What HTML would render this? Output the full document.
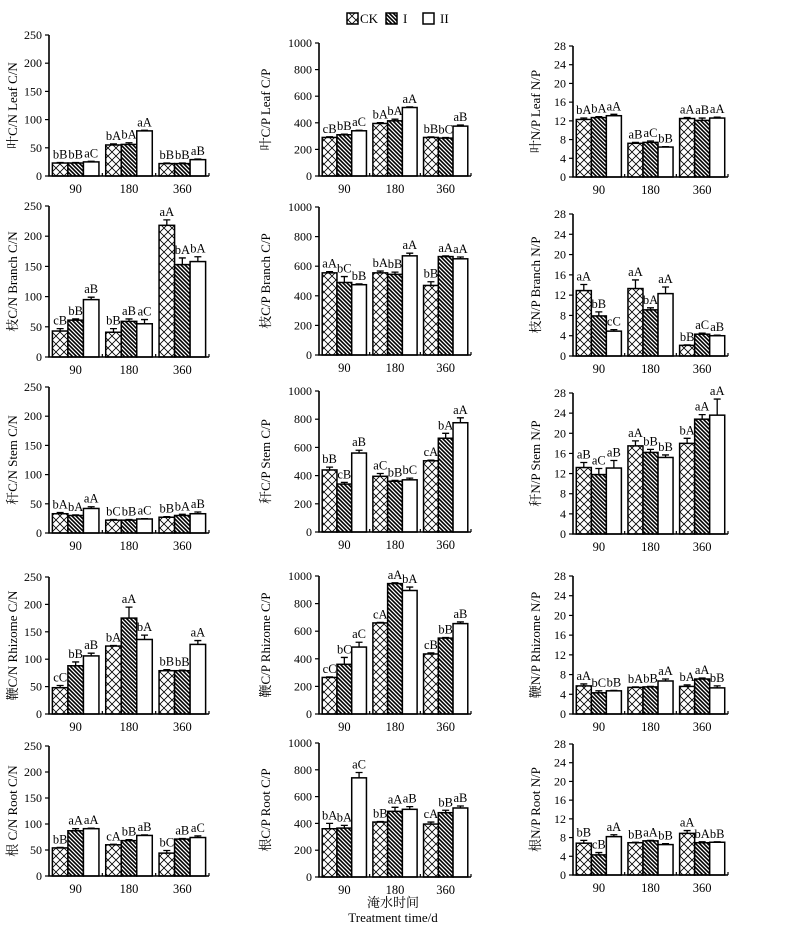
<!DOCTYPE html>
<html><head><meta charset="utf-8">
<style>
html,body{margin:0;padding:0;background:#fff;}
svg{display:block;font-family:"Liberation Serif","Noto Serif CJK SC",serif;}
</style></head>
<body>
<svg id="chart" width="800" height="925" viewBox="0 0 800 925" xmlns="http://www.w3.org/2000/svg">
<defs>
<pattern id="pCK" patternUnits="userSpaceOnUse" width="8" height="8">
<rect width="8" height="8" fill="#fff"/>
<path d="M0,0 L8,8 M8,0 L0,8" stroke="#000" stroke-width="0.8"/>
</pattern>
<pattern id="pI" patternUnits="userSpaceOnUse" width="4" height="4">
<rect width="4" height="4" fill="#fff"/>
<path d="M-1,-1 L5,5 M-1,3 L1,5 M3,-1 L5,1" stroke="#000" stroke-width="1.6"/>
</pattern>
</defs>
<g>
<rect x="347" y="13" width="11" height="11" fill="url(#pCK)" stroke="#000" stroke-width="1.5"/>
<text x="360" y="23" font-size="13">CK</text>
<rect x="386" y="13" width="11" height="11" fill="url(#pI)" stroke="#000" stroke-width="1.5"/>
<text x="403" y="23" font-size="13">I</text>
<rect x="423" y="13" width="11" height="11" fill="#fff" stroke="#000" stroke-width="1.5"/>
<text x="440" y="23" font-size="13">II</text>
</g>
<text x="393" y="907" font-size="13" text-anchor="middle">淹水时间</text>
<text x="393" y="922" font-size="13" text-anchor="middle">Treatment time/d</text>
</svg>
<script>
const categories = ["90","180","360"];
const seriesNames = ["CK","I","II"];
// Column 1: C/N
const leafCN = [[23,55,22],[23,56,22],[25,80,29]];
const leafCNErr = [[1,2,1],[1,3,1],[1,1,1]];
const leafCNLbl = [["bB","bA","bB"],["bB","bA","bB"],["aC","aA","aB"]];
const branchCN = [[43,41,218],[61,59,153],[95,55,158]];
const branchCNErr = [[4,6,9],[2,4,11],[4,7,8]];
const branchCNLbl = [["cB","bB","aA"],["bB","aB","bA"],["aB","aC","bA"]];
const stemCN = [[33,22,27],[30,22,30],[42,24,33]];
const stemCNErr = [[2,1,1],[1,1,2],[3,0.5,3]];
const stemCNLbl = [["bA","bC","bB"],["bA","bB","bA"],["aA","aC","aB"]];
const rhizomeCN = [[48,124,79],[88,175,79],[106,136,127]];
const rhizomeCNErr = [[4,1,2],[7,20,1],[5,8,7]];
const rhizomeCNLbl = [["cC","bA","bB"],["bB","aA","bB"],["aB","bA","aA"]];
const rootCN = [[54,60,44],[87,68,71],[91,78,74]];
const rootCNErr = [[1,1,5],[4,2,1],[1,1,3]];
const rootCNLbl = [["bB","cA","bC"],["aA","bB","aB"],["aA","aB","aC"]];
// Column 2: C/P
const leafCP = [[290,395,290],[310,415,285],[340,515,375]];
const leafCPErr = [[5,6,4],[5,12,4],[4,5,8]];
const leafCPLbl = [["cB","bA","bB"],["bB","bA","bC"],["aC","aA","aB"]];
const branchCP = [[555,555,470],[490,545,665],[475,670,650]];
const branchCPErr = [[8,12,25],[40,15,5],[5,18,12]];
const branchCPLbl = [["aA","bA","bB"],["bC","bB","aA"],["bB","aA","aA"]];
const stemCP = [[440,395,505],[340,360,665],[560,370,775]];
const stemCPErr = [[20,20,5],[12,6,35],[20,12,35]];
const stemCPLbl = [["bB","aC","cA"],["cB","bB","bA"],["aB","bC","aA"]];
const rhizomeCP = [[265,660,435],[360,945,550],[485,895,655]];
const rhizomeCPErr = [[4,4,8],[50,6,4],[35,25,12]];
const rhizomeCPLbl = [["cC","cA","cB"],["bC","aA","bB"],["aC","bA","aB"]];
const rootCP = [[360,410,395],[365,490,480],[740,505,515]];
const rootCPErr = [[40,4,15],[20,30,18],[40,20,15]];
const rootCPLbl = [["bA","bB","cA"],["bA","aA","bB"],["aC","aB","aB"]];
// Column 3: N/P
const leafNP = [[12.3,7.2,12.5],[12.7,7.4,12.1],[13.1,6.4,12.6]];
const leafNPErr = [[0.3,0.2,0.2],[0.2,0.3,0.5],[0.3,0.1,0.2]];
const leafNPLbl = [["bA","aB","aA"],["bA","aC","aB"],["aA","bB","aA"]];
const branchNP = [[12.9,13.3,2.1],[7.9,9.1,4.3],[4.9,12.3,4.0]];
const branchNPErr = [[1.2,1.7,0.1],[0.8,0.4,0.2],[0.3,1.3,0.1]];
const branchNPLbl = [["aA","aA","bB"],["bB","bA","aC"],["cC","aA","aB"]];
const stemNP = [[13.2,17.5,18.0],[11.8,16.2,22.8],[13.1,15.2,23.6]];
const stemNPErr = [[1,1,1],[1.2,0.6,0.9],[1.5,0.5,3.2]];
const stemNPLbl = [["aB","aA","bA"],["aC","bB","aA"],["aB","bB","aA"]];
const rhizomeNP = [[5.7,5.4,5.6],[4.3,5.5,7.1],[4.7,6.7,5.3]];
const rhizomeNPErr = [[0.4,0.1,0.3],[0.4,0.1,0.2],[0.1,0.4,0.4]];
const rhizomeNPLbl = [["aA","bA","bA"],["bC","bB","aA"],["bB","aA","bB"]];
const rootNP = [[6.8,6.9,8.9],[4.3,7.3,6.9],[8.2,6.5,7.0]];
const rootNPErr = [[0.6,0.1,0.6],[0.5,0.1,0.2],[0.4,0.2,0.1]];
const rootNPLbl = [["bB","bB","aA"],["cB","aA","bA"],["aA","bB","bB"]];

const NS = "http://www.w3.org/2000/svg";
const svg = document.getElementById("chart");
function mk(tag, attrs, parent){
  const e = document.createElementNS(NS, tag);
  for (const k in attrs) e.setAttribute(k, attrs[k]);
  (parent||svg).appendChild(e);
  return e;
}
const cols = [
  {ax:49, right:209, max:250, step:50, lx:17},
  {ax:319, right:471, max:1000, step:200, lx:270},
  {ax:573, right:728, max:28, step:4, lx:540}
];
const rows = [
  [[35,176],[43,176],[46,177]],
  [[206,357],[207,355],[214,356]],
  [[387,533],[391,532],[393,534]],
  [[577,714],[576,714],[576,714]],
  [[746,876],[743,877],[744,875]]
];
const panels = [
  [leafCN,leafCNErr,leafCNLbl,"叶C/N  Leaf C/N","leaf-cn"],
  [leafCP,leafCPErr,leafCPLbl,"叶C/P  Leaf C/P","leaf-cp"],
  [leafNP,leafNPErr,leafNPLbl,"叶N/P Leaf N/P","leaf-np"],
  [branchCN,branchCNErr,branchCNLbl,"枝C/N  Branch C/N","branch-cn"],
  [branchCP,branchCPErr,branchCPLbl,"枝C/P Branch C/P","branch-cp"],
  [branchNP,branchNPErr,branchNPLbl,"枝N/P Branch N/P","branch-np"],
  [stemCN,stemCNErr,stemCNLbl,"秆C/N  Stem C/N","stem-cn"],
  [stemCP,stemCPErr,stemCPLbl,"秆C/P  Stem C/P","stem-cp"],
  [stemNP,stemNPErr,stemNPLbl,"秆N/P  Stem N/P","stem-np"],
  [rhizomeCN,rhizomeCNErr,rhizomeCNLbl,"鞭C/N Rhizome C/N","rhizome-cn"],
  [rhizomeCP,rhizomeCPErr,rhizomeCPLbl,"鞭C/P Rhizome C/P","rhizome-cp"],
  [rhizomeNP,rhizomeNPErr,rhizomeNPLbl,"鞭N/P Rhizome N/P","rhizome-np"],
  [rootCN,rootCNErr,rootCNLbl,"根 C/N  Root C/N","root-cn"],
  [rootCP,rootCPErr,rootCPLbl,"根C/P Root C/P","root-cp"],
  [rootNP,rootNPErr,rootNPLbl,"根N/P  Root N/P","root-np"]
];
const fills = ["url(#pCK)","url(#pI)","#fff"];
panels.forEach((p, idx) => {
  const r = Math.floor(idx/3), c = idx%3;
  const col = cols[c], top = rows[r][c][0], bot = rows[r][c][1];
  const [vals, errs, lbls, title, name] = p;
  const g = mk("g", {});
  
  
  const W = col.right - col.ax;
  const y = v => bot - (v/col.max)*(bot-top);
  const x0 = i => col.ax + W*i/3;
  const bw = W*0.097;
  // y ticks
  for (let v = 0; v <= col.max + 1e-9; v += col.step) {
    const t = mk("line", {x1:col.ax-4, x2:col.ax, y1:y(v), y2:y(v), stroke:"#000", "stroke-width":1.2}, g);
    
    
    const tl = mk("text", {x:col.ax-7, y:y(v)+4, "font-size":12, "text-anchor":"end"}, g);
    
    
    tl.textContent = String(Math.round(v));
  }
  // y axis title
  const yt = mk("text", {x:col.lx, y:(top+bot)/2, "font-size":13, "text-anchor":"middle", transform:`rotate(-90 ${col.lx} ${(top+bot)/2})`}, g);
  
  
  yt.textContent = title;
  // bars
  categories.forEach((cat, ci) => {
    const cx = col.ax + W*(ci+0.5)/3;
    seriesNames.forEach((s, si) => {
      const v = vals[si][ci], e = errs[si][ci];
      const bx = cx - 1.5*bw + si*bw;
      const bar = mk("rect", {x:bx, y:y(v), width:bw, height:bot-y(v), fill:fills[si], stroke:"#000", "stroke-width":1.5}, g);
      
      
      const mx = bx + bw/2;
      const eb = mk("path", {d:`M${mx},${y(v)} L${mx},${y(v+e)} M${mx-3.5},${y(v+e)} L${mx+3.5},${y(v+e)}`, stroke:"#000", "stroke-width":1.3, fill:"none"}, g);
      
      
      const lt = mk("text", {x:mx, y:y(v+e)-4, "font-size":12.5, "text-anchor":"middle"}, g);
      
      
      lt.textContent = lbls[si][ci];
    });
    const xl = mk("text", {x:cx, y:bot+17, "font-size":12.5, "text-anchor":"middle"}, g);
    
    
    xl.textContent = cat;
  });
  // x ticks at group boundaries
  for (let i = 1; i <= 3; i++) {
    const xt = mk("line", {x1:x0(i), x2:x0(i), y1:bot-3, y2:bot, stroke:"#000", "stroke-width":1.2}, g);
    
    
  }
  const axes = mk("path", {d:`M${col.ax},${top} L${col.ax},${bot} L${col.right},${bot}`, stroke:"#000", "stroke-width":1.6, fill:"none"}, g);
  
  
});
</script>
</body></html>
